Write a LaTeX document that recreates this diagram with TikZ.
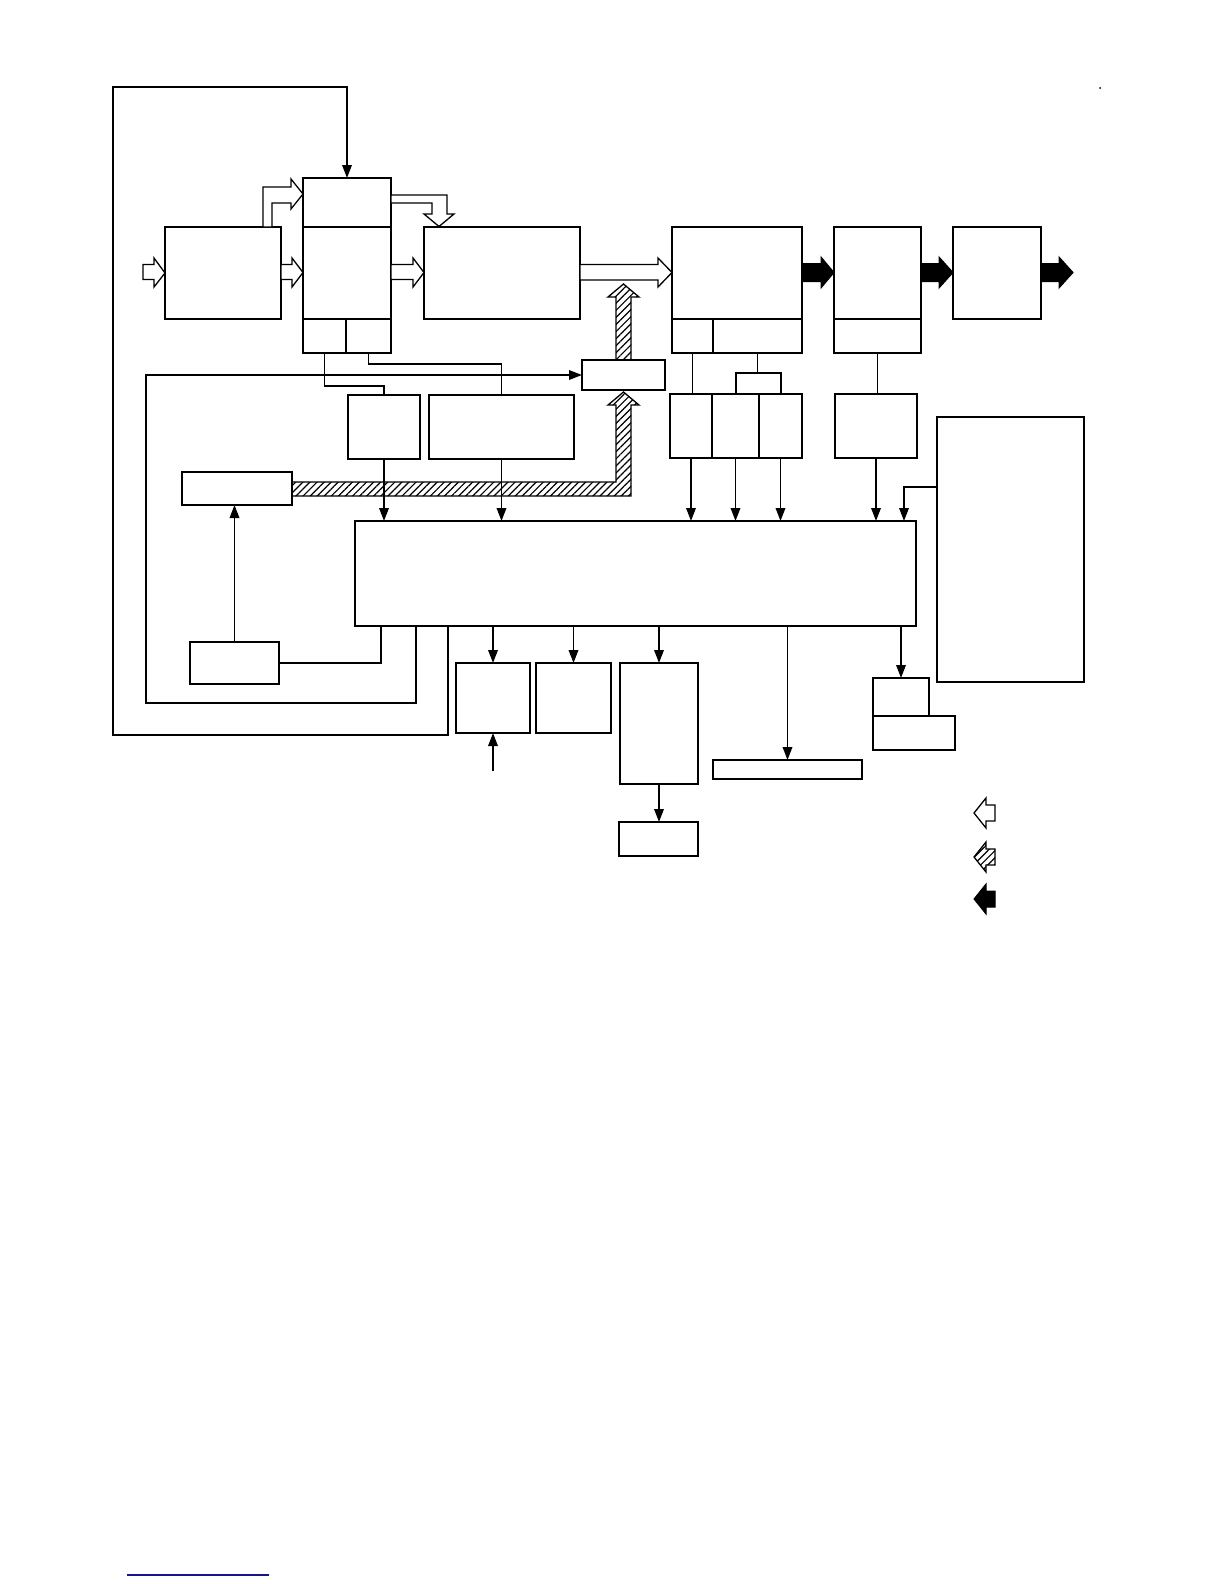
\documentclass[tikz,border=0pt]{standalone}
\usetikzlibrary{arrows.meta,patterns.meta,calc}
\definecolor{linkblue}{RGB}{20,20,140}
\tikzset{
  box/.style={draw, line width=1.8pt, inner sep=0pt, outer sep=0pt, anchor=north west},
  wire/.style={line width=1.8pt},
  arr/.style={wire, -{Triangle[length=13pt,width=9.5pt]}},
  hollow/.style={draw, fill=white, line width=1.3pt, line join=miter},
  hatch/.style={draw, line width=1.3pt, pattern={Lines[angle=45,distance=5pt,line width=1.2pt]}},
  solidarrow/.style={draw, fill=black, line width=1pt},
}
\newcommand\bx[5]{\node[box, minimum width={(#4-#2)*1pt}, minimum height={(#5-#3)*1pt}] (#1) at (#2,#3) {};}
\begin{document}
\begin{tikzpicture}[x=1pt,y=-1pt]
\fill[white] (0,0) rectangle (1224,1584);
\useasboundingbox (0,0) rectangle (1224,1584);

% ---- boxes ----
\bx{A}{165}{227}{281}{319}
\bx{Btop}{303}{178}{391}{227}
\bx{Bmid}{303}{227}{391}{319}
\bx{Bbl}{303}{319}{346}{353}
\bx{Bbr}{346}{319}{391}{353}
\bx{C}{424}{227}{580}{319}
\bx{Dtop}{672}{227}{802}{319}
\bx{Dbl}{672}{319}{713}{353}
\bx{Dbr}{713}{319}{802}{353}
\bx{Ktop}{834}{227}{921}{319}
\bx{Kbot}{834}{319}{921}{353}
\bx{L}{953}{227}{1041}{319}
\bx{E}{582}{360}{665}{390}
\bx{I}{348}{395}{420}{459}
\bx{J}{429}{395}{574}{459}
\bx{H}{182}{472}{292}{505}
\bx{F}{355}{521}{916}{626}
\bx{G}{190}{642}{279}{684}
\bx{Msm}{736}{373}{781}{394}
\bx{M1}{670}{394}{712}{458}
\bx{M2}{712}{394}{759}{458}
\bx{M3}{759}{394}{802}{458}
\bx{N}{835}{394}{917}{458}
\bx{P}{937}{417}{1084}{682}
\bx{Q}{456}{663}{530}{733}
\bx{R}{536}{663}{611}{733}
\bx{S}{620}{663}{698}{784}
\bx{T}{619}{822}{698}{856}
\bx{U}{713}{760}{862}{779}
\bx{Vt}{873}{678}{929}{716}
\bx{Vb}{873}{716}{955}{750}

% ---- hollow block arrows ----
\draw[hollow] (143,264.5) -- (154,264.5) -- (154,258) -- (A.west) -- (154,287) -- (154,279.5) -- (143,279.5) -- cycle;
\draw[hollow] (A.east |- 0,264.5) -- (292,264.5) -- (292,258) -- (Bmid.west |- 0,272.5) -- (292,287) -- (292,279.5) -- (A.east |- 0,279.5) -- cycle;
\draw[hollow] (Bmid.east |- 0,264.5) -- (413,264.5) -- (413,258) -- (C.west |- 0,272.5) -- (413,287) -- (413,279.5) -- (Bmid.east |- 0,279.5) -- cycle;
\draw[hollow] (C.east |- 0,264.5) -- (658,264.5) -- (658,258) -- (Dtop.west |- 0,272.5) -- (658,287) -- (658,280) -- (C.east |- 0,280) -- cycle;
\draw[hollow] (263,227) -- (263,187) -- (291,187) -- (291,179) -- (Btop.west |- 0,194) -- (291,209) -- (291,203) -- (272,203) -- (272,227) -- cycle;
\draw[hollow] (Btop.east |- 0,195) -- (447,195) -- (447,214) -- (454,214) -- (439,226.5) -- (424,214) -- (432,214) -- (432,203) -- (Btop.east |- 0,203) -- cycle;

% ---- solid block arrows ----
\draw[solidarrow] (Dtop.east |- 0,263.5) -- (821,263.5) -- (821,257) -- (Ktop.west |- 0,272.5) -- (821,288) -- (821,281.5) -- (Dtop.east |- 0,281.5) -- cycle;
\draw[solidarrow] (Ktop.east |- 0,263.5) -- (939,263.5) -- (939,257) -- (L.west |- 0,272.5) -- (939,288) -- (939,281.5) -- (Ktop.east |- 0,281.5) -- cycle;
\draw[solidarrow] (L.east |- 0,263.5) -- (1059,263.5) -- (1059,257) -- (1073,272.5) -- (1059,288) -- (1059,281.5) -- (L.east |- 0,281.5) -- cycle;

% ---- hatched block arrows ----
\draw[hatch] (616,360) -- (616,297) -- (608,297) -- (623.5,284) -- (639,297) -- (631,297) -- (631,360) -- cycle;
\draw[hatch] (H.east |- 0,482) -- (616,482) -- (616,405) -- (608,405) -- (623.5,392) -- (639,405) -- (631,405) -- (631,496) -- (H.east |- 0,496) -- cycle;

% ---- wires ----
\draw[arr] (448,0 |- F.south) |- (113,735) |- (Btop.north |- 0,87) -- (Btop.north);
\draw[arr] (416,0 |- F.south) |- (146,703) |- (E.west);
\draw[wire] (G.east) -| (381,0 |- F.south);
\draw[arr] (G.north) -- (G.north |- H.south);
\draw[wire] (Bbl.south) |- (384,386) -- (I.north);
\draw[wire] (Bbr.south) |- (J.north |- 0,364) -- (J.north);
\draw[arr] (I.south) -- (I.south |- F.north);
\draw[arr] (J.south) -- (J.south |- F.north);
\draw[arr] (M1.south) -- (M1.south |- F.north);
\draw[arr] (M2.south) -- (M2.south |- F.north);
\draw[arr] (M3.south) -- (M3.south |- F.north);
\draw[arr] (N.south) -- (N.south |- F.north);
\draw[arr] (P.west |- 0,487) -| (904,0 |- F.north);
\draw[wire] (Dbl.south) -- (Dbl.south |- M1.north);
\draw[wire] (Dbr.south) -- (Dbr.south |- Msm.north);
\draw[wire] (Kbot.south) -- (Kbot.south |- N.north);
\draw[arr] (Q.north |- F.south) -- (Q.north);
\draw[arr] (R.north |- F.south) -- (R.north);
\draw[arr] (S.north |- F.south) -- (S.north);
\draw[arr] (U.north |- F.south) -- (U.north);
\draw[arr] (Vt.north |- F.south) -- (Vt.north);
\draw[arr] (Q.south |- 0,771) -- (Q.south);
\draw[arr] (S.south) -- (S.south |- T.north);

% ---- legend ----
\draw[hollow] (995,805) -- (986,805) -- (986,798) -- (974,813) -- (986,828) -- (986,821) -- (995,821) -- cycle;
\draw[hatch] (995,849) -- (986,849) -- (986,842) -- (974,857) -- (986,872) -- (986,865) -- (995,865) -- cycle;
\draw[solidarrow] (995,891) -- (986,891) -- (986,884) -- (974,899) -- (986,914) -- (986,907) -- (995,907) -- cycle;

% ---- stray marks ----
\fill (1100,88) circle (1pt);
\draw[linkblue, line width=1.5pt] (127,1575) -- (269,1575);
\end{tikzpicture}
\end{document}
